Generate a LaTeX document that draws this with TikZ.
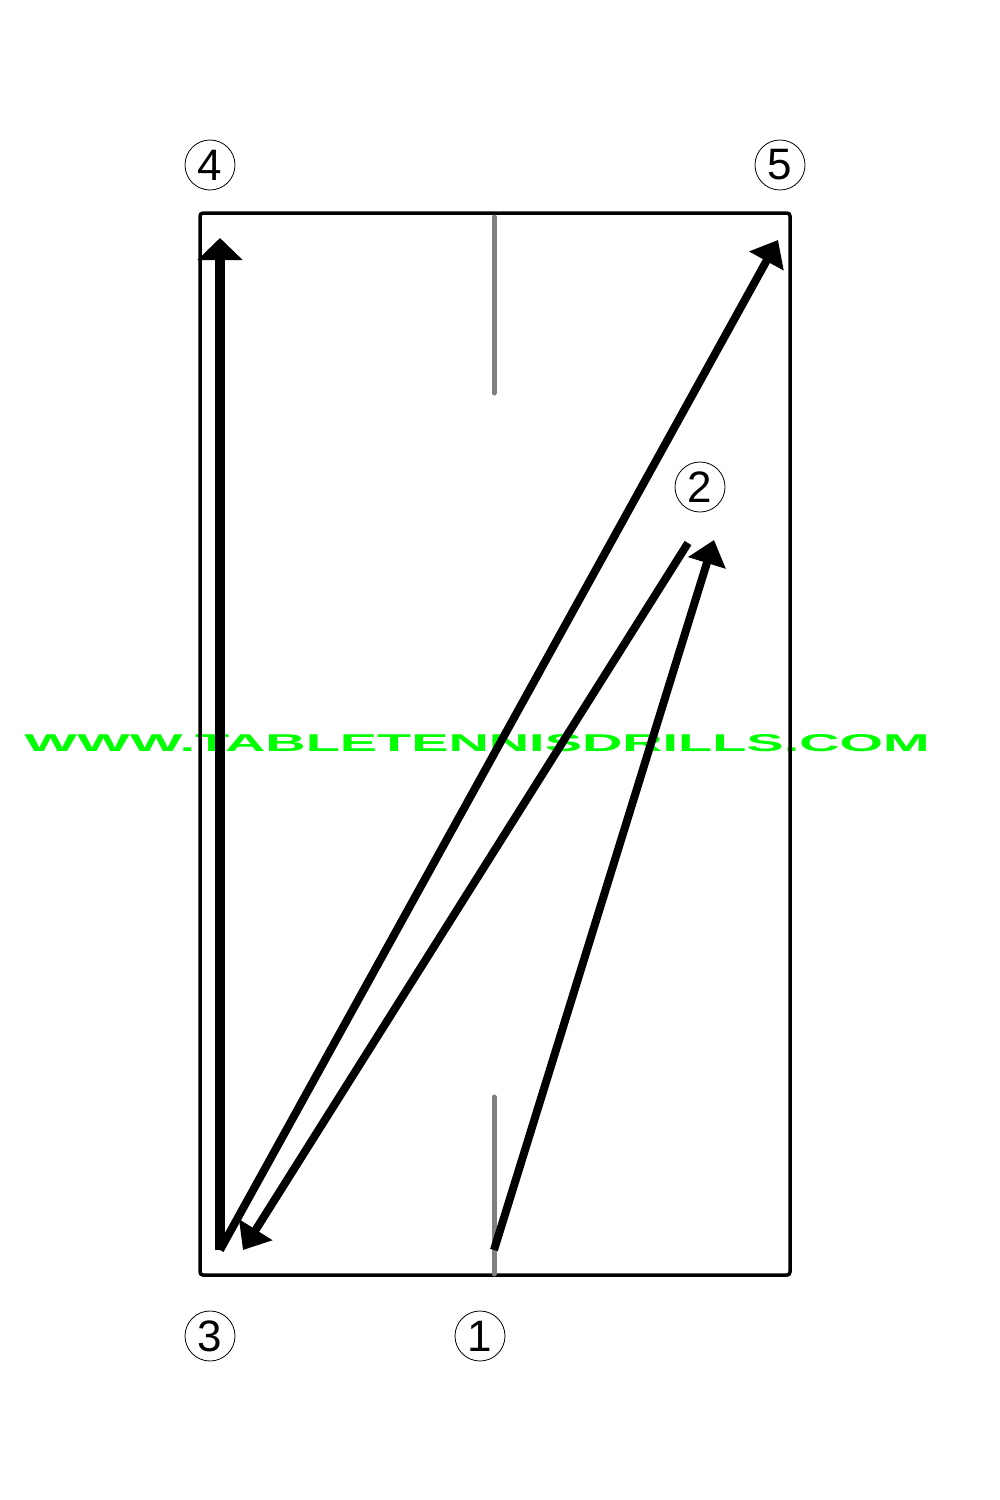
\documentclass[tikz,border=0pt]{standalone}
\usepackage{fontspec}
\setmainfont{Liberation Sans}
\usetikzlibrary{arrows.meta}
\begin{document}
\begin{tikzpicture}[x=1pt,y=-1pt,
  numlabel/.style={circle,draw,line width=0.8pt,minimum size=50pt,inner sep=0pt,font=\fontsize{44}{44}\selectfont},
  shot/.style={line width=8pt,-{Triangle[length=24pt,width=38pt]}},
  netline/.style={line width=5pt,draw={rgb,255:red,128;green,128;blue,128},line cap=round}]
\useasboundingbox (0,0) rectangle (1000,1500);
% watermark (behind)
\node[text={rgb,255:red,0;green,255;blue,0},inner sep=0pt] (wm) at (477,743)
  {\resizebox{905pt}{17pt}{\bfseries WWW.TABLETENNISDRILLS.COM}};
% table
\draw[line width=3.5pt,rounded corners=3pt] (200,213) rectangle (790,1275);
\coordinate (ntop1) at (494,217);
\coordinate (ntop2) at (494,393);
\coordinate (nbot1) at (494,1097);
\coordinate (nbot2) at (494,1274);
\draw[netline] (ntop1) -- (ntop2);
\draw[netline] (nbot1) -- (nbot2);
% labels
\node[numlabel] (l4) at (210,165) {4};
\node[numlabel] (l5) at (780,165) {5};
\node[numlabel] (l2) at (700,487) {2};
\node[numlabel] (l3) at (210,1336) {3};
\node[numlabel] (l1) at (480,1336) {1};
% shot points
\coordinate (p1) at (494,1250);
\coordinate (p2) at (714,540);
\coordinate (p2b) at (688,543);
\coordinate (p3a) at (243,1250);
\coordinate (p3) at (220,1250);
\coordinate (p4) at (220,238);
\coordinate (p5) at (778,240);
\draw[shot] (p1) -- (p2);
\draw[shot] (p2b) -- (p3a);
\draw[shot] (p3) -- (p5);
\draw[shot,line width=10pt,-{Triangle[length=22pt,width=44pt]}] (p3) -- (p4);
\end{tikzpicture}
\end{document}
